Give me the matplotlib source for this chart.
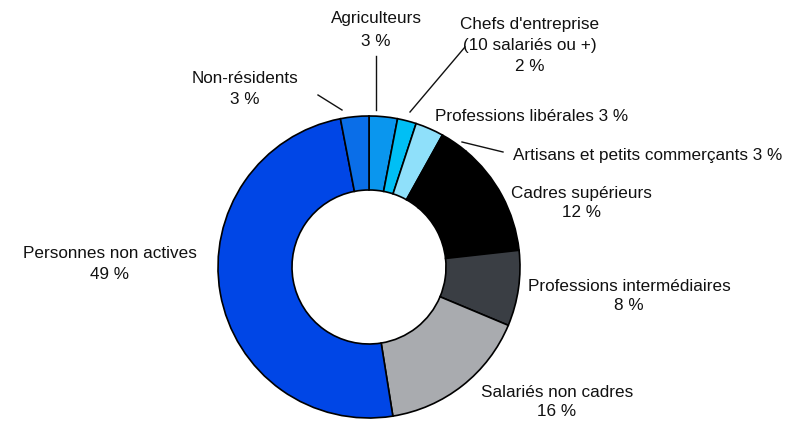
import matplotlib
matplotlib.use("Agg")
import matplotlib.pyplot as plt

# Data
categories = ["Agriculteurs", "Chefs d'entreprise\n(10 salariés ou +)", "Professions libérales",
              "Artisans et petits commerçants", "Cadres supérieurs", "Professions intermédiaires",
              "Salariés non cadres", "Personnes non actives", "Non-résidents"]
values = [3, 2, 3, 3, 12, 8, 16, 49, 3]
colors = ["#0a96ee", "#00bff5", "#8fe0fa", "#000000", "#000000", "#3a3e44",
          "#a9abaf", "#0046e6", "#0a6ee8"]

W, H = 787, 425
plt.rcParams['font.family'] = ['Liberation Sans', 'DejaVu Sans']
fig = plt.figure(figsize=(W / 100, H / 100), dpi=100)
ax = fig.add_axes([0, 0, 1, 1])

def Y(y):
    return H - y

cx, cy, R, w = 369, 267, 151, 74
ax.pie(values, colors=colors, startangle=90, counterclock=False, radius=R,
       center=(cx, Y(cy)), normalize=True,
       wedgeprops=dict(width=w, edgecolor='black', linewidth=1.2))
ax.set_xlim(0, W)
ax.set_ylim(0, H)
ax.set_aspect('equal')
ax.axis('off')

fs = 12.3
def lab(x, y, s, ha='center', ls=1.45):
    ax.text(x, Y(y), s, ha=ha, va='center', fontsize=fs, color='#111111', linespacing=ls)

lab(376, 30, f"{categories[0]}\n{values[0]} %", ls=1.6)
lab(530, 45, f"{categories[1]}\n{values[1]} %", ls=1.5)
lab(435, 116, f"{categories[2]} {values[2]} %", ha='left')
lab(513, 155, f"{categories[3]} {values[3]} %", ha='left')
lab(581, 203, f"{categories[4]}\n{values[4]} %", ls=1.3)
lab(629, 296, f"{categories[5]}\n{values[5]} %", ls=1.4)
lab(557, 402, f"{categories[6]}\n{values[6]} %", ls=1.3)
lab(110, 264, f"{categories[7]}\n{values[7]} %", ls=1.5)
lab(245, 89, f"{categories[8]}\n{values[8]} %", ls=1.45)

def leader(x0, y0, x1, y1):
    ax.plot([x0, x1], [Y(y0), Y(y1)], color='#111111', lw=1.0)

leader(376, 56, 376, 110)
leader(465, 47, 410, 112)
leader(462, 142, 503, 152)
leader(318, 95, 342, 110)

fig.savefig("out.png", dpi=100)
